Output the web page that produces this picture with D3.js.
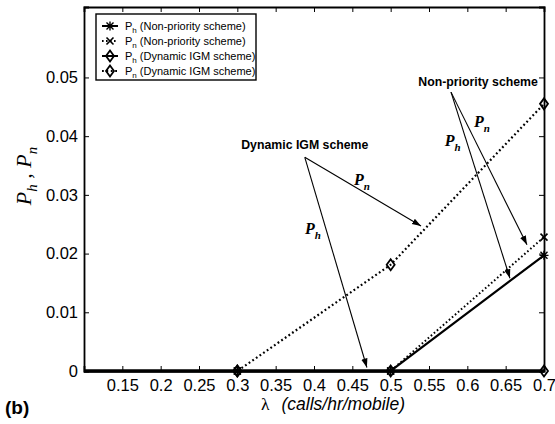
<!DOCTYPE html>
<html>
<head>
<meta charset="utf-8">
<script src="https://cdn.jsdelivr.net/npm/d3@7"></script>
<style>
  body { margin: 0; background: #fff; }
  text { font-family: "Liberation Sans", Arial, sans-serif; }
</style>
</head>
<body>
<div id="chart"></div>
<script>
// Data
const lambda = [0.1, 0.3, 0.5, 0.7];
const phNonPriority = [0, 0, 0, 0.0197];
const pnNonPriority = [0, 0, 0, 0.0228];
const phDynamic = [0, 0, 0, 0];
const pnDynamic = [0, 0, 0.0181, 0.0455];

const xTicks = [0.15, 0.2, 0.25, 0.3, 0.35, 0.4, 0.45, 0.5, 0.55, 0.6, 0.65, 0.7];
const yTicks = [0, 0.01, 0.02, 0.03, 0.04, 0.05];

const legendLabels = [
  ["P", "h", " (Non-priority scheme)"],
  ["P", "n", " (Non-priority scheme)"],
  ["P", "h", " (Dynamic IGM scheme)"],
  ["P", "n", " (Dynamic IGM scheme)"]
];

// Set dimensions and margins
const margin = { top: 7, right: 11, bottom: 53, left: 84 };
const width = 555 - margin.left - margin.right;
const height = 424 - margin.top - margin.bottom;

const x = d3.scaleLinear().domain([0.1, 0.7]).range([0, width]);
const y = d3.scaleLinear().domain([0, 0.062]).range([height, 0]);

const svg = d3.select("#chart")
  .append("svg")
    .attr("width", 555)
    .attr("height", 424);

const defs = svg.append("defs");
defs.append("marker")
    .attr("id", "arrow")
    .attr("viewBox", "0 0 10 10")
    .attr("refX", 10)
    .attr("refY", 5)
    .attr("markerWidth", 9)
    .attr("markerHeight", 9)
    .attr("markerUnits", "userSpaceOnUse")
    .attr("orient", "auto")
  .append("path")
    .attr("d", "M0,1.5 L10,5 L0,8.5 Z")
    .attr("fill", "#000");

const g = svg.append("g")
    .attr("transform", `translate(${margin.left},${margin.top})`);

// Axes (ticks inward, box on)
g.append("g")
    .attr("class", "x axis")
    .attr("transform", `translate(0,${height})`)
    .call(d3.axisBottom(x).tickValues(xTicks).tickFormat(d => String(d)).tickSize(-5).tickPadding(8));

g.append("g")
    .attr("class", "x axis top")
    .call(d3.axisTop(x).tickValues(xTicks).tickFormat("").tickSize(-5));

g.append("g")
    .attr("class", "y axis")
    .call(d3.axisLeft(y).tickValues(yTicks).tickFormat(d => String(d)).tickSize(-5).tickPadding(6));

g.append("g")
    .attr("class", "y axis right")
    .attr("transform", `translate(${width},0)`)
    .call(d3.axisRight(y).tickValues(yTicks).tickFormat("").tickSize(-5));

g.selectAll(".axis path").attr("stroke", "#000").attr("stroke-width", 1.8);
g.selectAll(".axis line").attr("stroke", "#000").attr("stroke-width", 1);
g.selectAll(".axis text")
    .attr("fill", "#000")
    .style("font-family", "'Liberation Sans', Arial, sans-serif")
    .style("font-size", "16.5px");

// Series
const series = [
  { values: phNonPriority, dash: null, marker: "star", w: 2.2 },
  { values: pnNonPriority, dash: "1.6,2.4", marker: "cross", w: 2 },
  { values: phDynamic, dash: null, marker: "diamond", w: 3.4 },
  { values: pnDynamic, dash: "1.8,2.6", marker: "diamond", w: 2.2 }
];

const line = d3.line()
  .x(d => x(d[0]))
  .y(d => y(d[1]));

function drawMarker(sel, type, cx, cy) {
  if (type === "diamond") {
    sel.append("path")
      .attr("d", `M${cx},${cy - 5.5}L${cx + 4},${cy}L${cx},${cy + 5.5}L${cx - 4},${cy}Z`)
      .attr("fill", "none").attr("stroke", "#000").attr("stroke-width", 1.8);
  } else if (type === "cross") {
    sel.append("path")
      .attr("d", `M${cx - 3.5},${cy - 3.5}L${cx + 3.5},${cy + 3.5}M${cx - 3.5},${cy + 3.5}L${cx + 3.5},${cy - 3.5}`)
      .attr("stroke", "#000").attr("stroke-width", 1.6);
  } else {
    sel.append("path")
      .attr("d", `M${cx - 3.5},${cy - 3.5}L${cx + 3.5},${cy + 3.5}M${cx - 3.5},${cy + 3.5}L${cx + 3.5},${cy - 3.5}M${cx - 4.5},${cy}L${cx + 4.5},${cy}M${cx},${cy - 4.5}L${cx},${cy + 4.5}`)
      .attr("stroke", "#000").attr("stroke-width", 1.4);
  }
}

series.forEach(s => {
  const pts = lambda.map((l, i) => [l, s.values[i]]);
  g.append("path")
    .datum(pts)
    .attr("fill", "none")
    .attr("stroke", "#000")
    .attr("stroke-width", s.w)
    .attr("stroke-dasharray", s.dash)
    .attr("d", line);
  const mg = g.append("g");
  pts.slice(1).forEach(p => drawMarker(mg, s.marker, x(p[0]), y(p[1])));
});

// Legend
const legend = g.append("g").attr("transform", "translate(12,7)");
legend.append("rect")
    .attr("width", 160).attr("height", 66)
    .attr("fill", "#fff").attr("stroke", "#000").attr("stroke-width", 1.4);

legendLabels.forEach((lab, i) => {
  const cy = 12 + i * 15;
  const row = legend.append("g");
  row.append("line")
    .attr("x1", 6).attr("x2", 22).attr("y1", cy).attr("y2", cy)
    .attr("stroke", "#000").attr("stroke-width", 2)
    .attr("stroke-dasharray", series[i].dash);
  drawMarker(row, series[i].marker, 14, cy);
  const t = row.append("text")
    .attr("x", 29).attr("y", cy + 4)
    .style("font-size", "11px");
  t.append("tspan").text(lab[0]);
  t.append("tspan").attr("dy", 3).style("font-size", "8px").text(lab[1]);
  t.append("tspan").attr("dy", -3).text(lab[2]);
});

// Annotations: label position and arrow targets, in data units
const annotations = [
  { title: "Dynamic IGM scheme", tx: 0.388, ty: 0.0378, from: [0.388, 0.0364],
    arrows: [
      { to: [0.5396, 0.0247], sub: "n", lx: 0.4626, ly: 0.0316 },
      { to: [0.469, 0.0006], sub: "h", lx: 0.3987, ly: 0.0233 }
    ] },
  { title: "Non-priority scheme", tx: 0.614, ty: 0.0486, from: [0.5787, 0.0475],
    arrows: [
      { to: [0.6778, 0.0215], sub: "n", lx: 0.619, ly: 0.0416 },
      { to: [0.6556, 0.0158], sub: "h", lx: 0.581, ly: 0.0383 }
    ] }
];

annotations.forEach(a => {
  g.append("text")
    .attr("x", x(a.tx)).attr("y", y(a.ty))
    .attr("text-anchor", "middle")
    .style("font-size", "12.3px")
    .style("font-weight", "bold")
    .text(a.title);
  a.arrows.forEach(r => {
    g.append("line")
      .attr("x1", x(a.from[0])).attr("y1", y(a.from[1]))
      .attr("x2", x(r.to[0])).attr("y2", y(r.to[1]))
      .attr("stroke", "#000").attr("stroke-width", 1.1)
      .attr("marker-end", "url(#arrow)");
    const t = g.append("text")
      .attr("x", x(r.lx)).attr("y", y(r.ly))
      .attr("text-anchor", "middle")
      .style("font-family", "'Liberation Serif', 'Times New Roman', serif")
      .style("font-style", "italic")
      .style("font-weight", "bold")
      .style("font-size", "16px");
    t.append("tspan").text("P");
    t.append("tspan").attr("dy", 5).style("font-size", "11px").text(r.sub);
  });
});

// Y label
const yl = svg.append("text")
    .attr("transform", "translate(31,176) rotate(-90)")
    .attr("text-anchor", "middle")
    .style("font-family", "'Liberation Serif', 'Times New Roman', serif")
    .style("font-style", "italic")
    .style("font-size", "22px");
yl.append("tspan").text("P");
yl.append("tspan").attr("dy", 6).style("font-size", "15px").text("h");
yl.append("tspan").attr("dy", -6).text(" ,  P");
yl.append("tspan").attr("dy", 6).style("font-size", "15px").text("n");

// X label
const xl = svg.append("text")
    .attr("x", 261).attr("y", 410)
    .style("font-size", "17.5px");
xl.append("tspan")
    .style("font-family", "'Liberation Serif', 'Times New Roman', serif")
    .text("λ");
xl.append("tspan")
    .style("font-style", "italic")
    .attr("dx", 12)
    .text("(calls/hr/mobile)");

// Panel tag
svg.append("text")
    .attr("x", 5).attr("y", 414)
    .style("font-size", "19px")
    .style("font-weight", "bold")
    .text("(b)");
</script>
</body>
</html>
